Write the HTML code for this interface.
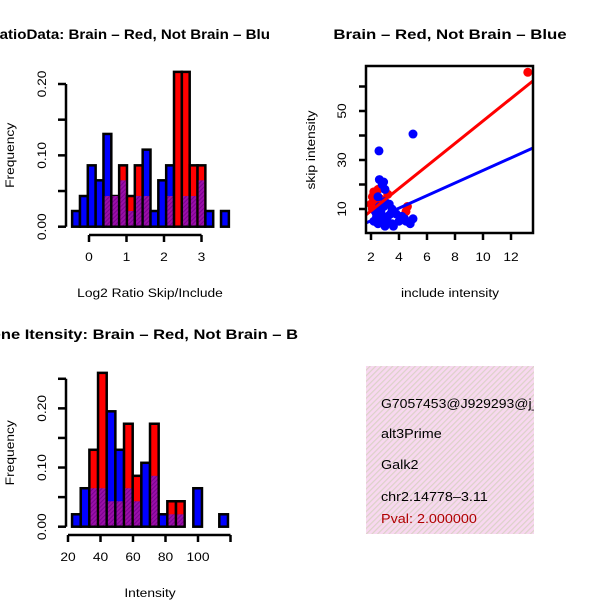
<!DOCTYPE html>
<html><head><meta charset="utf-8"><style>
body{margin:0;background:#fff}
svg{display:block;font-family:"Liberation Sans",sans-serif}
</style></head><body>
<svg id="c" width="600" height="600" viewBox="0 0 600 600">
<defs>
<pattern id="hatch" width="4" height="4" patternUnits="userSpaceOnUse" patternTransform="rotate(45)">
<rect width="4" height="4" fill="#f8d8f0"/><rect width="1.2" height="4" fill="#dcd2c8"/></pattern>
<pattern id="ph" width="3" height="3" patternUnits="userSpaceOnUse" patternTransform="rotate(45)">
<rect width="3" height="3" fill="#9a10a8"/><rect width="1" height="3" fill="#7a0090"/></pattern>
<clipPath id="boxclip"><rect x="366" y="366" width="168" height="168"/></clipPath>
</defs>
<g id="g1"></g>
<g id="g2"></g>
<g id="g3"></g>
<g>
<rect x="366" y="366" width="168" height="168" fill="url(#hatch)"/>
<g clip-path="url(#boxclip)" font-size="12.5">
<text transform="translate(381,408) scale(1.12,1)">G7057453@J929293@j_</text>
<text transform="translate(381,438) scale(1.15,1)">alt3Prime</text>
<text transform="translate(381,469) scale(1.15,1)">Galk2</text>
<text transform="translate(381,501) scale(1.15,1)">chr2.14778–3.11</text>
<text transform="translate(381,523) scale(1.15,1)" fill="#b00000">Pval: 2.000000</text>
</g></g>
</svg>
<script>
// Ratio histogram data
const ratioBinStart=-0.45, ratioBinWidth=0.209;
const ratioBrain=[0,0,0,0,0.043,0.043,0.086,0.043,0.086,0.043,0,0,0.043,0.217,0.217,0.086,0.086,0,0,0];
const ratioNotBrain=[0.022,0.043,0.086,0.065,0.13,0.043,0.065,0.022,0.043,0.108,0.022,0.065,0.086,0,0.043,0.043,0.065,0.022,0,0.022];
const ratioXTicks=[0,1,2,3];
const ratioYTicks=[0,0.05,0.10,0.15,0.20];
const ratioYLabels=["0.00","0.10","0.20"];
// Intensity histogram data
const intBinStart=22.5, intBinWidth=5.33;
const intBrain=[0,0,0.13,0.26,0.043,0.043,0.174,0.086,0,0.174,0,0.043,0.043,0,0,0,0,0];
const intNotBrain=[0.021,0.065,0.065,0.065,0.195,0.13,0.065,0.043,0.108,0.086,0.021,0.021,0.021,0,0.065,0,0,0.021];
const intXTicks=[20,40,60,80,100,120];
const intXLabels=["20","40","60","80","100",""];
const intYTicks=[0,0.05,0.10,0.15,0.20,0.25];
const intYLabels=["0.00","0.10","0.20"];
// Scatter data
const brainX=[2.1,2.2,2.5,3.2,2.0,4.5,4.6,2.4,2.3,2.7,2.1,13.2];
const brainY=[15,17,18,16,12,9,11,8,13,14,10,65.8];
const notX=[2.6,2.8,3.0,2.5,3.0,2.6,3.5,3.8,2.2,2.5,3.0,3.5,4.0,4.5,5.0,4.8,2.3,3.2,4.2,2.8,3.6,2.57,5.0,2.9,3.3,4.4,2.7,3.1,3.4,2.4,2.9];
const notY=[22,20,18,15,13,11,10,8,5,4,3,4,5,5,6,4,9,7,7,6,3,33.7,40.6,21,12,6,9,5,8,7,11];
const brainFit=[1.64,7.6,13.57,62.3];
const notFit=[1.64,4.3,13.57,34.9];
const scXTicks=[2,4,6,8,10,12];
const scYTicks=[10,20,30,40,50,60];
const scYLabels=["10","","30","","50",""];

const NS="http://www.w3.org/2000/svg";
const SX=1.15;
function mk(p,t,a,txt){const e=document.createElementNS(NS,t);for(const k in a)e.setAttribute(k,a[k]);if(txt!==undefined)e.textContent=txt;p.appendChild(e);return e;}
function htext(p,x,y,txt,size,anchor,s){return mk(p,'text',{x:0,y:0,'font-size':size,'text-anchor':anchor||'middle',transform:`translate(${x},${y}) scale(${s||SX},1)`},txt);}
function vtext(p,x,y,txt,size){return mk(p,'text',{x:0,y:0,'font-size':size,'text-anchor':'middle',transform:`translate(${x},${y}) rotate(-90) scale(${SX},1)`},txt);}

function hist(g,brain,notb,start,w,xs,ys,xTicks,xLabels,yTicks,yLabels,xAxisY,xlab){
  for(let i=0;i<brain.length;i++){
    const x0=xs(start+i*w),x1=xs(start+(i+1)*w);
    const b=brain[i],n=notb[i],hi=Math.max(b,n),lo=Math.min(b,n);
    if(hi>0){
      const r=mk(g,'rect',{x:x0,y:ys(hi),width:x1-x0,height:ys(0)-ys(hi),fill:b>n?'#ff0000':'#0000ff',stroke:'#000','stroke-width':2.5});
      
      
    }
    if(lo>0){
      const r=mk(g,'rect',{x:x0+1.2,y:ys(lo),width:x1-x0-2.4,height:ys(0)-ys(lo)-1.2,fill:'url(#ph)'});
      
      
    }
  }
  const ya=mk(g,'line',{x1:66,x2:66,y1:ys(yTicks[0]),y2:ys(yTicks[yTicks.length-1]),stroke:'#000','stroke-width':2.5});
  
  yTicks.forEach((t,i)=>{mk(g,'line',{x1:58,x2:66,y1:ys(t),y2:ys(t),stroke:'#000','stroke-width':2.5});
    if(i%2==0){const tx=vtext(g,46,ys(t),yLabels[i/2],12);
      }});
  const xa=mk(g,'line',{x1:xs(xTicks[0]),x2:xs(xTicks[xTicks.length-1]),y1:xAxisY,y2:xAxisY,stroke:'#000','stroke-width':2.5});
  
  xTicks.forEach((t,i)=>{mk(g,'line',{x1:xs(t),x2:xs(t),y1:xAxisY,y2:xAxisY+7,stroke:'#000','stroke-width':2.5});
    const tx=htext(g,xs(t),xAxisY+26,xLabels[i],12);
    });
  const yl=vtext(g,14,(ys(yTicks[0])+ys(yTicks[yTicks.length-1]))/2,'Frequency',12);
  
  const xl=htext(g,150,xAxisY+62,xlab,12);
  
}

const g1=document.getElementById('g1');
hist(g1,ratioBrain,ratioNotBrain,ratioBinStart,ratioBinWidth,v=>89+v*37.5,v=>226.7-v*713.5,ratioXTicks,ratioXTicks.map(String),ratioYTicks,ratioYLabels,235,'Log2 Ratio Skip/Include');
let t=mk(g1,'text',{x:0,y:0,'font-size':14,'font-weight':'bold','text-anchor':'end',transform:'translate(270,39) scale(1.08,1)'},'RatioData: Brain – Red, Not Brain – Blu');


const g3=document.getElementById('g3');
hist(g3,intBrain,intNotBrain,intBinStart,intBinWidth,v=>68+(v-20)*1.625,v=>526.7-v*591.7,intXTicks,intXLabels,intYTicks,intYLabels,535,'Intensity');
t=mk(g3,'text',{x:0,y:0,'font-size':14,'font-weight':'bold','text-anchor':'end',transform:'translate(298,339) scale(1.18,1)'},'Gene Itensity: Brain – Red, Not Brain – B');


// scatter
const g2=document.getElementById('g2');
const sx=v=>371+(v-2)*14, sy=v=>209-(v-10)*2.45;
mk(g2,'clipPath',{id:'scclip'}).appendChild(document.createElementNS(NS,'rect'));
const cr=document.querySelector('#scclip rect');cr.setAttribute('x',367);cr.setAttribute('y',67);cr.setAttribute('width',166);cr.setAttribute('height',166);
const inner=mk(g2,'g',{'clip-path':'url(#scclip)'});
brainX.forEach((x,i)=>{const c=mk(inner,'circle',{cx:sx(x),cy:sy(brainY[i]),r:4.5,fill:'#ff0000'});
  });
notX.forEach((x,i)=>{const c=mk(inner,'circle',{cx:sx(x),cy:sy(notY[i]),r:4.5,fill:'#0000ff'});
  });
let l=mk(inner,'line',{x1:sx(brainFit[0]),y1:sy(brainFit[1]),x2:sx(brainFit[2]),y2:sy(brainFit[3]),stroke:'#ff0000','stroke-width':3});

l=mk(inner,'line',{x1:sx(notFit[0]),y1:sy(notFit[1]),x2:sx(notFit[2]),y2:sy(notFit[3]),stroke:'#0000ff','stroke-width':3});

const bx=mk(g2,'rect',{x:366,y:66,width:167,height:167,fill:'none',stroke:'#000','stroke-width':2.5});

scXTicks.forEach(v=>{mk(g2,'line',{x1:sx(v),x2:sx(v),y1:233,y2:240,stroke:'#000','stroke-width':2.5});
  const tx=htext(g2,sx(v),261,String(v),12);
  });
scYTicks.forEach((v,i)=>{mk(g2,'line',{x1:359,x2:366,y1:sy(v),y2:sy(v),stroke:'#000','stroke-width':2.5});
  if(scYLabels[i]){const tx=vtext(g2,346,sy(v),scYLabels[i],12);
  }});
t=htext(g2,450,297,'include intensity',12);

t=vtext(g2,315,150,'skip intensity',12);

t=mk(g2,'text',{x:0,y:0,'font-size':14,'font-weight':'bold','text-anchor':'middle',transform:'translate(450,39) scale(1.2,1)'},'Brain – Red, Not Brain – Blue');

</script>
</body></html>
